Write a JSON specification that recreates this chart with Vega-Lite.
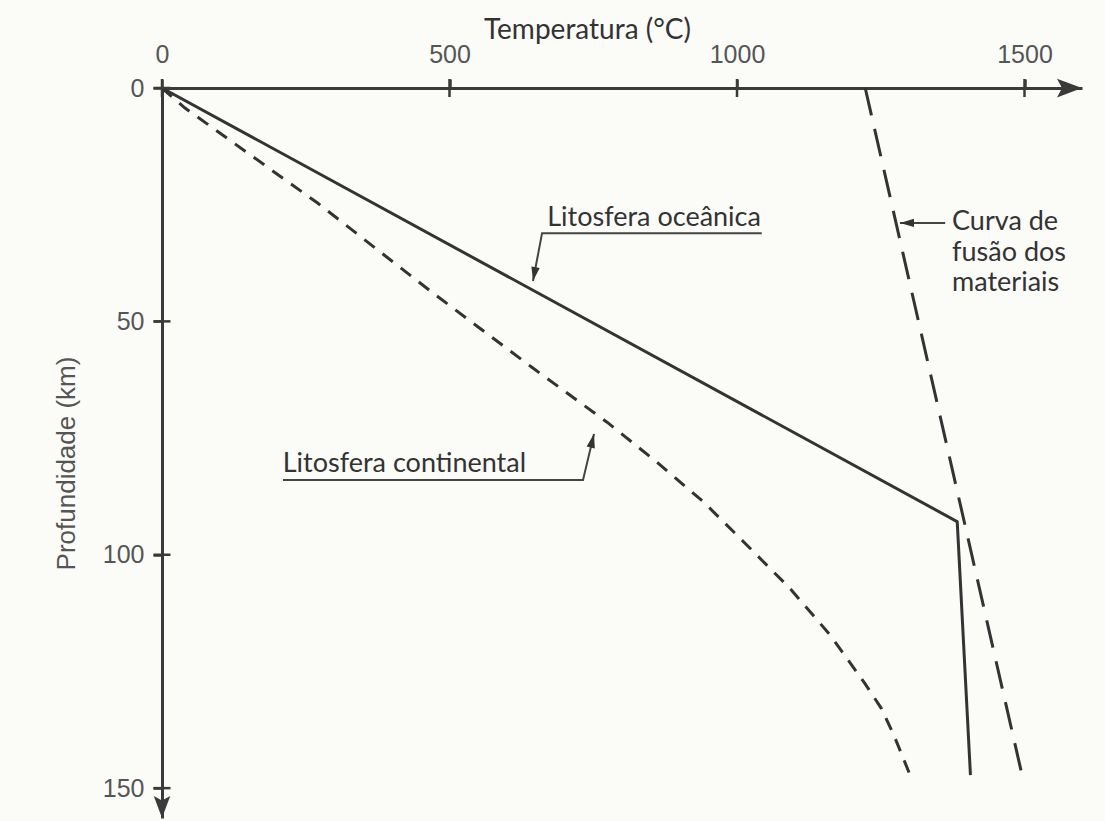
{
  "$schema": "https://vega.github.io/schema/vega-lite/v6.json",
  "width": 920,
  "height": 730,
  "autosize": {"type": "none"},
  "padding": {"left": 162, "top": 88, "right": 23, "bottom": 3},
  "background": "#fbfbf8",
  "config": {"view": {"stroke": null}, "axis": {"grid": false}},
  "datasets": {
    "cont": [
      {"T": 0, "d": 0}, {"T": 40, "d": 4.3}, {"T": 270, "d": 24.6}, {"T": 471, "d": 43.9},
      {"T": 645, "d": 60}, {"T": 774, "d": 71.6}, {"T": 860, "d": 80.1}, {"T": 941, "d": 88.6},
      {"T": 1017, "d": 97.9}, {"T": 1092, "d": 107.2}, {"T": 1162, "d": 117.2}, {"T": 1222, "d": 127.5},
      {"T": 1251, "d": 132.9}, {"T": 1274, "d": 139.0}, {"T": 1301, "d": 147.2}
    ],
    "ocean": [{"T": 0, "d": 0}, {"T": 1383, "d": 92.9}, {"T": 1406, "d": 147.2}],
    "melt": [{"T": 1223, "d": 0}, {"T": 1495, "d": 146.8}],
    "leaders": [
      {"id": "oc", "k": 1, "T": 1043, "d": 31.1}, {"id": "oc", "k": 2, "T": 661, "d": 31.1}, {"id": "oc", "k": 3, "T": 645.2, "d": 41.35},
      {"id": "co", "k": 1, "T": 210.4, "d": 84.0}, {"id": "co", "k": 2, "T": 732.2, "d": 84.0}, {"id": "co", "k": 3, "T": 751.3, "d": 74.1},
      {"id": "me", "k": 1, "T": 1362, "d": 28.9}, {"id": "me", "k": 2, "T": 1283.5, "d": 28.9}
    ],
    "heads": [
      {"id": "oc", "T": 645.2, "d": 41.35}, {"id": "co", "T": 751.3, "d": 74.1}, {"id": "me", "T": 1283.5, "d": 28.9},
      {"id": "ax", "T": 1600, "d": 0}, {"id": "ay", "T": 0, "d": 156.4}
    ],
    "ticks": [
      {"axis": "x", "T": 0, "d": 0}, {"axis": "x", "T": 500, "d": 0}, {"axis": "x", "T": 1000, "d": 0}, {"axis": "x", "T": 1500, "d": 0},
      {"axis": "y", "T": 0, "d": 0}, {"axis": "y", "T": 0, "d": 50}, {"axis": "y", "T": 0, "d": 100}, {"axis": "y", "T": 0, "d": 150}
    ],
    "labels": [
      {"label": "Litosfera oceânica", "T": 670, "d": 29.6},
      {"label": "Litosfera continental", "T": 210, "d": 82.3},
      {"label": "Curva de", "T": 1374, "d": 30.4},
      {"label": "fusão dos", "T": 1374, "d": 37.0},
      {"label": "materiais", "T": 1374, "d": 43.5}
    ]
  },
  "encoding": {
    "x": {
      "field": "T", "type": "quantitative",
      "scale": {"domain": [0, 1600], "nice": false, "zero": false},
      "axis": {
        "orient": "top", "values": [0, 500, 1000, 1500], "format": "d",
        "title": "Temperatura (°C)", "titleFont": "Lato", "titleFontSize": 28, "titleFontWeight": "normal",
        "titleColor": "#333333", "titleX": 425, "titleY": -50, "titleAlign": "center", "titleBaseline": "alphabetic",
        "labelFont": "Liberation Sans", "labelFontSize": 25, "labelColor": "#555555", "labelFlush": false,
        "labelBaseline": "alphabetic", "labelPadding": 17, "labelOverlap": false,
        "tickSize": 9, "tickWidth": 2.5, "tickColor": "#3a3a3a",
        "domainColor": "#3a3a3a", "domainWidth": 3, "grid": false
      }
    },
    "y": {
      "field": "d", "type": "quantitative",
      "scale": {"domain": [0, 156.4], "nice": false, "zero": false, "reverse": true},
      "axis": {
        "orient": "left", "values": [0, 50, 100, 150], "format": "d",
        "title": "Profundidade (km)", "titleFont": "Liberation Sans", "titleFontSize": 26, "titleFontWeight": "normal",
        "titleColor": "#555555", "titleX": -96, "titleY": 375, "titleAngle": -90, "titleAlign": "center", "titleBaseline": "middle",
        "labelFont": "Liberation Sans", "labelFontSize": 25, "labelColor": "#555555", "labelFlush": false,
        "labelBaseline": "middle", "labelAlign": "right", "labelPadding": 9, "labelOverlap": false,
        "tickSize": 9, "tickWidth": 2.5, "tickColor": "#3a3a3a",
        "domainColor": "#3a3a3a", "domainWidth": 3, "grid": false
      }
    }
  },
  "layer": [
    {"data": {"name": "cont"}, "mark": {"type": "line", "color": "#333333", "strokeWidth": 3, "strokeDash": [13, 10]}},
    {"data": {"name": "ocean"}, "mark": {"type": "line", "color": "#333333", "strokeWidth": 3}},
    {"data": {"name": "melt"}, "mark": {"type": "line", "color": "#333333", "strokeWidth": 3, "strokeDash": [28, 14]}},
    {"data": {"name": "leaders"}, "mark": {"type": "line", "color": "#444444", "strokeWidth": 2},
     "encoding": {"detail": {"field": "id"}, "order": {"field": "k", "type": "quantitative"}}},
    {"data": {"name": "heads"}, "transform": [{"filter": "datum.id === 'oc'"}],
     "mark": {"type": "point", "shape": "M0,0L-2,-0.6L-2,0.6Z", "size": 196, "angle": 100.6, "filled": true, "opacity": 1, "color": "#333333"}},
    {"data": {"name": "heads"}, "transform": [{"filter": "datum.id === 'co'"}],
     "mark": {"type": "point", "shape": "M0,0L-2,-0.6L-2,0.6Z", "size": 196, "angle": 283.4, "filled": true, "opacity": 1, "color": "#333333"}},
    {"data": {"name": "heads"}, "transform": [{"filter": "datum.id === 'me'"}],
     "mark": {"type": "point", "shape": "M0,0L-2,-0.6L-2,0.6Z", "size": 196, "angle": 180, "filled": true, "opacity": 1, "color": "#333333"}},
    {"data": {"name": "heads"}, "transform": [{"filter": "datum.id === 'ax'"}],
     "mark": {"type": "point", "shape": "M0,0L-2,-0.75L-1.6,0L-2,0.75Z", "size": 625, "angle": 0, "filled": true, "opacity": 1, "color": "#3a3a3a"}},
    {"data": {"name": "heads"}, "transform": [{"filter": "datum.id === 'ay'"}],
     "mark": {"type": "point", "shape": "M0,0L-2,-0.75L-1.6,0L-2,0.75Z", "size": 484, "angle": 90, "filled": true, "opacity": 1, "color": "#3a3a3a"}},
    {"data": {"name": "ticks"}, "transform": [{"filter": "datum.axis === 'x'"}],
     "mark": {"type": "tick", "orient": "vertical", "size": 18, "thickness": 2.5, "color": "#3a3a3a", "opacity": 1}},
    {"data": {"name": "ticks"}, "transform": [{"filter": "datum.axis === 'y'"}],
     "mark": {"type": "tick", "orient": "horizontal", "size": 17, "thickness": 2.5, "color": "#3a3a3a", "opacity": 1}},
    {"data": {"name": "labels"},
     "mark": {"type": "text", "align": "left", "baseline": "alphabetic", "font": "Lato", "fontSize": 27, "color": "#333333"},
     "encoding": {"text": {"field": "label"}}}
  ]
}
